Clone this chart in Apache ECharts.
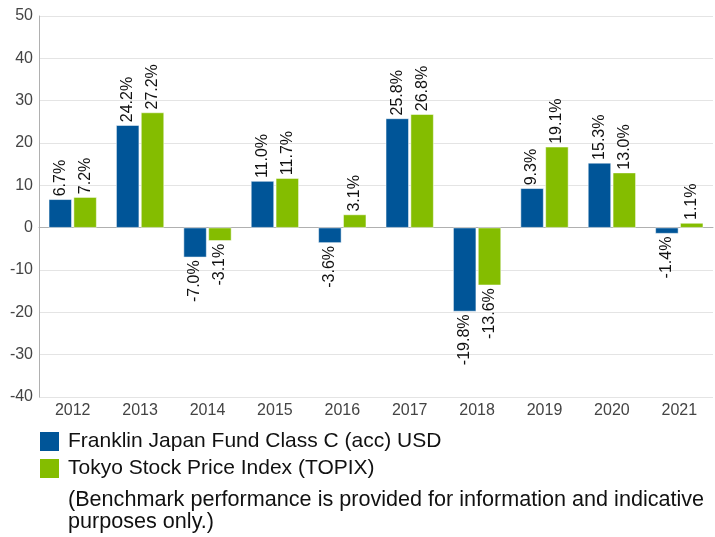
<!DOCTYPE html>
<html>
<head>
<meta charset="utf-8">
<script src="https://cdn.jsdelivr.net/npm/echarts@6/dist/echarts.min.js"></script>
<style>
  html, body { margin: 0; padding: 0; background: #fff; }
  #chart { width: 715px; height: 537px; }
</style>
</head>
<body>
<div id="chart"></div>
<script>
var years = ['2012','2013','2014','2015','2016','2017','2018','2019','2020','2021']
var fundReturns = [6.7, 24.2, -7.0, 11.0, -3.6, 25.8, -19.8, 9.3, 15.3, -1.4]
var topixReturns = [7.2, 27.2, -3.1, 11.7, 3.1, 26.8, -13.6, 19.1, 13.0, 1.1]
var fundName = 'Franklin Japan Fund Class C (acc) USD'
var topixName = 'Tokyo Stock Price Index (TOPIX)'
var noteText = '(Benchmark performance is provided for information and indicative\npurposes only.)'

var font = 'Liberation Sans, Arial, sans-serif'

// labels sit above positive bars and below negative ones
function withLabels(values) {
  return values.map(function (v) {
    return {
      value: v,
      label: {
        position: v < 0 ? 'bottom' : 'top',
        align: v < 0 ? 'right' : 'left'
      }
    }
  })
}

var barLabel = {
  show: true,
  rotate: 90,
  verticalAlign: 'middle',
  distance: 3,
  fontFamily: font,
  fontSize: 16,
  color: '#111',
  formatter: function (p) { return p.value.toFixed(1) + '%' }
}

var chart = echarts.init(document.getElementById('chart'))
chart.setOption({
  animation: false,
  backgroundColor: '#fff',
  title: {
    text: noteText,
    left: 63,
    top: 484,
    textStyle: {
      fontFamily: font,
      fontSize: 21.6,
      fontWeight: 'normal',
      color: '#111',
      lineHeight: 22
    }
  },
  legend: {
    orient: 'vertical',
    left: 33,
    top: 425,
    itemWidth: 21,
    itemHeight: 21,
    itemGap: 4,
    icon: 'rect',
    textStyle: { fontFamily: font, fontSize: 21, color: '#111', padding: [0, 0, 0, 3] },
    data: [fundName, topixName]
  },
  grid: { left: 39, right: 2, top: 16, bottom: 140, containLabel: false },
  xAxis: {
    type: 'category',
    data: years,
    axisLine: { lineStyle: { color: '#b0b0b0' } },
    axisTick: { show: false },
    axisLabel: { fontFamily: font, fontSize: 16, color: '#444', margin: 6 }
  },
  yAxis: {
    type: 'value',
    min: -40,
    max: 50,
    interval: 10,
    axisLine: { show: true, lineStyle: { color: '#b0b0b0' } },
    axisTick: { show: false },
    axisLabel: { fontFamily: font, fontSize: 16, color: '#444', margin: 6 },
    splitLine: { lineStyle: { color: '#e4e4e4' } }
  },
  series: [
    {
      name: fundName,
      type: 'bar',
      data: withLabels(fundReturns),
      barWidth: 23,
      barGap: '8%',
      itemStyle: { color: '#005598', borderColor: '#fff', borderWidth: 0.5 },
      label: barLabel
    },
    {
      name: topixName,
      type: 'bar',
      data: withLabels(topixReturns),
      barWidth: 23,
      itemStyle: { color: '#84bd00', borderColor: '#fff', borderWidth: 0.5 },
      label: barLabel
    }
  ]
})
</script>
</body>
</html>
